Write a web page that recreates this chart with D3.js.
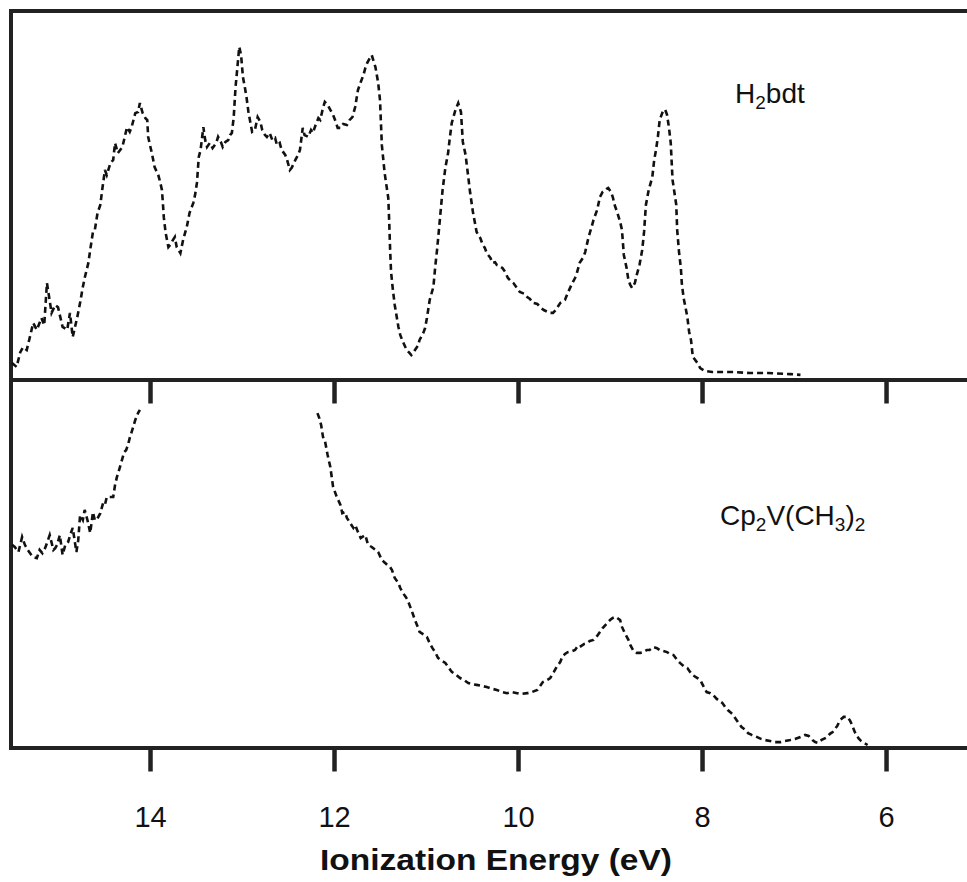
<!DOCTYPE html>
<html>
<head>
<meta charset="utf-8">
<script src="https://cdn.jsdelivr.net/npm/d3@7"></script>
<style>
body { margin: 0; background: #fff; }
text { font-family: "Liberation Sans", Arial, sans-serif; fill: #111; }
</style>
</head>
<body>
<div id="graph"></div>
<script>
// photoelectron spectra, [ionization energy (eV), intensity (arb. 0-100)]
var h2bdt_spectrum = [
  [15.50,3.9],[15.45,2.8],[15.41,6.9],[15.38,8.3],[15.34,7.5],[15.30,11.7],[15.27,15.0],[15.23,13.1],[15.18,16.4],[15.15,14.4],
  [15.12,26.1],[15.10,22.8],[15.07,17.8],[15.03,20.0],[15.00,19.4],[14.95,13.9],[14.90,13.1],[14.87,17.8],[14.84,11.1],[14.79,16.7],
  [14.76,20.6],[14.73,25.0],[14.71,27.5],[14.67,31.7],[14.65,35.3],[14.62,40.3],[14.60,40.8],[14.57,45.6],[14.54,47.8],[14.52,51.9],
  [14.49,57.5],[14.47,56.1],[14.43,59.4],[14.40,60.3],[14.38,65.0],[14.35,62.2],[14.30,63.9],[14.27,67.2],[14.25,69.4],[14.22,68.1],
  [14.20,69.4],[14.16,73.3],[14.13,73.6],[14.11,76.1],[14.08,73.3],[14.05,71.9],[14.03,71.4],[14.02,66.7],[14.00,64.4],[13.98,62.2],
  [13.95,58.3],[13.91,56.1],[13.89,54.2],[13.87,51.9],[13.86,48.3],[13.85,44.4],[13.83,40.0],[13.80,36.1],[13.78,36.7],[13.75,38.1],
  [13.73,38.9],[13.71,36.1],[13.67,34.4],[13.64,38.1],[13.60,41.7],[13.57,45.6],[13.53,48.3],[13.51,50.6],[13.49,53.9],[13.47,61.1],
  [13.45,63.1],[13.42,69.4],[13.40,65.8],[13.38,63.9],[13.35,65.0],[13.32,63.6],[13.28,65.0],[13.26,66.7],[13.23,65.3],[13.21,63.9],
  [13.18,65.3],[13.15,65.8],[13.13,67.2],[13.11,67.8],[13.09,72.2],[13.07,80.6],[13.05,86.1],[13.03,91.7],[13.01,89.4],[12.99,83.3],
  [12.97,80.6],[12.95,77.5],[12.93,73.6],[12.91,70.8],[12.89,68.1],[12.86,68.6],[12.83,72.2],[12.80,70.8],[12.78,68.6],[12.75,67.2],
  [12.73,66.7],[12.70,67.8],[12.67,65.8],[12.64,66.4],[12.62,64.4],[12.59,65.0],[12.57,63.1],[12.53,61.7],[12.51,60.3],[12.48,57.5],
  [12.46,58.1],[12.42,60.3],[12.39,61.7],[12.37,63.1],[12.34,69.2],[12.32,67.2],[12.28,66.7],[12.25,68.6],[12.23,67.8],[12.20,70.0],
  [12.17,71.9],[12.15,71.4],[12.12,74.7],[12.10,76.4],[12.07,75.6],[12.04,74.2],[12.01,72.8],[11.98,70.8],[11.96,69.2],[11.93,69.2],
  [11.90,70.3],[11.86,70.0],[11.83,71.4],[11.80,72.2],[11.77,75.0],[11.74,79.7],[11.71,81.9],[11.68,83.9],[11.66,85.8],[11.64,87.2],
  [11.61,88.6],[11.59,89.4],[11.55,86.1],[11.52,81.7],[11.50,76.9],[11.48,64.4],[11.45,56.7],[11.41,49.7],[11.40,43.1],[11.39,35.3],
  [11.38,29.2],[11.36,24.2],[11.34,20.0],[11.30,13.9],[11.28,11.7],[11.26,10.3],[11.23,8.6],[11.21,7.5],[11.18,6.7],[11.16,6.1],
  [11.14,6.7],[11.12,7.5],[11.09,8.6],[11.07,10.3],[11.03,12.2],[11.01,13.6],[10.99,16.4],[10.96,21.4],[10.92,25.0],[10.90,30.6],
  [10.88,35.3],[10.86,40.8],[10.84,46.4],[10.82,51.9],[10.79,58.1],[10.76,62.2],[10.74,66.7],[10.72,70.6],[10.68,74.2],[10.65,76.1],
  [10.62,73.6],[10.60,65.3],[10.57,61.7],[10.55,57.5],[10.52,51.1],[10.49,45.8],[10.45,40.3],[10.41,38.6],[10.39,37.2],[10.36,35.8],
  [10.34,34.4],[10.30,33.1],[10.28,31.7],[10.25,31.9],[10.23,31.1],[10.20,30.8],[10.17,30.3],[10.14,29.2],[10.11,27.5],[10.08,26.7],
  [10.05,26.1],[10.01,24.7],[9.98,23.6],[9.93,23.1],[9.90,22.2],[9.87,21.7],[9.84,20.6],[9.79,20.3],[9.76,19.4],[9.72,18.6],
  [9.68,18.1],[9.65,17.8],[9.62,17.8],[9.59,18.6],[9.54,20.6],[9.49,21.4],[9.46,23.3],[9.41,26.1],[9.38,27.5],[9.36,28.9],
  [9.33,31.7],[9.29,33.3],[9.27,34.7],[9.24,38.1],[9.22,40.0],[9.20,41.7],[9.18,43.6],[9.16,45.0],[9.14,46.4],[9.11,50.0],
  [9.08,51.4],[9.04,52.2],[9.02,52.5],[8.99,51.4],[8.97,50.0],[8.95,47.8],[8.92,45.6],[8.89,43.1],[8.87,40.8],[8.85,33.9],
  [8.82,30.3],[8.80,26.9],[8.78,25.6],[8.76,24.7],[8.73,26.1],[8.71,28.3],[8.68,31.1],[8.65,35.3],[8.63,40.3],[8.61,47.8],
  [8.58,51.9],[8.54,55.6],[8.52,60.3],[8.50,63.1],[8.48,66.7],[8.46,71.4],[8.42,74.2],[8.40,74.2],[8.38,72.8],[8.36,69.4],
  [8.34,65.0],[8.33,59.7],[8.32,54.7],[8.28,47.8],[8.27,40.8],[8.25,34.7],[8.23,30.3],[8.22,26.1],[8.20,21.9],[8.18,19.4],
  [8.16,16.7],[8.14,12.5],[8.12,10.3],[8.10,5.6],[8.05,3.9],[8.02,2.5],[7.97,1.7],[7.89,1.4],[7.80,1.4],[7.66,1.4],
  [7.48,1.1],[7.29,1.1],[7.04,0.8],[6.93,0.6]
];

// Cp2V(CH3)2 goes off scale between ~14.1 and ~12.2 eV, so two pieces
var cp2v_part1 = [
  [15.50,55.6],[15.47,55.0],[15.43,53.6],[15.39,57.8],[15.36,55.6],[15.33,54.2],[15.29,52.8],[15.27,52.2],[15.23,51.9],[15.20,54.2],
  [15.17,53.3],[15.14,54.7],[15.12,56.1],[15.09,58.3],[15.05,54.2],[15.03,54.7],[15.01,55.6],[14.98,58.3],[14.95,52.8],[14.92,55.6],
  [14.89,56.4],[14.86,58.9],[14.84,60.3],[14.80,53.6],[14.78,56.9],[14.76,63.9],[14.73,62.5],[14.71,65.3],[14.68,62.5],[14.65,58.9],
  [14.62,64.7],[14.60,62.5],[14.58,62.5],[14.54,64.4],[14.51,67.2],[14.49,66.7],[14.47,68.9],[14.43,68.9],[14.40,68.9],[14.38,72.2],
  [14.36,74.4],[14.32,77.8],[14.28,81.4],[14.26,81.9],[14.24,83.3],[14.22,85.3],[14.20,86.9],[14.16,90.3],[14.13,92.2],[14.11,93.1]
];
var cp2v_part2 = [
  [12.18,92.2],[12.16,90.8],[12.14,88.9],[12.12,85.6],[12.10,84.7],[12.07,80.6],[12.04,77.2],[12.01,71.7],[11.99,70.3],[11.97,68.9],
  [11.93,66.7],[11.91,64.4],[11.88,64.7],[11.86,63.1],[11.83,61.9],[11.79,60.3],[11.77,61.1],[11.74,59.2],[11.71,57.5],[11.66,58.3],
  [11.63,55.6],[11.59,55.0],[11.55,54.2],[11.52,53.6],[11.48,51.4],[11.42,50.0],[11.39,49.4],[11.37,48.6],[11.34,46.4],[11.30,45.0],
  [11.28,43.6],[11.25,42.2],[11.22,41.1],[11.20,40.3],[11.15,36.9],[11.12,34.7],[11.09,32.8],[11.07,31.4],[11.02,30.6],[10.99,30.0],
  [10.96,28.3],[10.93,26.9],[10.90,25.8],[10.87,24.2],[10.84,23.6],[10.79,22.8],[10.76,21.7],[10.72,20.3],[10.67,19.4],[10.63,18.6],
  [10.59,18.1],[10.54,17.2],[10.50,16.9],[10.45,16.7],[10.39,16.4],[10.34,16.1],[10.28,15.6],[10.23,15.3],[10.17,14.7],[10.12,14.4],
  [10.07,14.7],[10.01,14.4],[9.96,14.2],[9.90,14.4],[9.85,14.7],[9.79,15.3],[9.76,16.4],[9.73,17.5],[9.68,18.1],[9.65,18.6],
  [9.61,20.3],[9.58,21.7],[9.54,23.1],[9.52,24.4],[9.49,25.3],[9.46,25.8],[9.41,26.1],[9.38,26.4],[9.35,27.5],[9.33,27.2],
  [9.28,28.1],[9.25,28.3],[9.22,28.9],[9.18,29.2],[9.14,30.3],[9.11,31.4],[9.08,32.5],[9.03,33.9],[9.00,34.7],[8.97,35.3],
  [8.94,35.6],[8.89,34.7],[8.87,32.8],[8.84,31.1],[8.80,29.2],[8.78,27.8],[8.75,26.4],[8.71,25.6],[8.67,25.6],[8.64,25.8],
  [8.60,26.4],[8.57,26.4],[8.53,27.2],[8.49,26.9],[8.46,26.4],[8.42,26.1],[8.38,25.8],[8.35,25.3],[8.31,25.0],[8.27,23.6],
  [8.24,22.8],[8.20,21.9],[8.16,21.4],[8.13,20.3],[8.10,19.4],[8.05,18.6],[8.02,18.1],[7.98,16.1],[7.95,14.7],[7.91,14.4],
  [7.88,13.9],[7.84,12.8],[7.78,11.7],[7.75,10.6],[7.72,9.7],[7.67,8.6],[7.64,7.5],[7.61,6.4],[7.57,5.0],[7.53,4.2],
  [7.50,3.3],[7.46,2.8],[7.40,2.2],[7.36,1.7],[7.32,1.4],[7.26,1.1],[7.21,0.8],[7.15,0.8],[7.10,1.1],[7.04,1.4],
  [6.99,1.7],[6.93,2.2],[6.88,2.8],[6.84,2.5],[6.80,1.4],[6.77,0.8],[6.74,0.6],[6.70,1.4],[6.64,2.2],[6.61,3.1],
  [6.58,3.6],[6.53,5.3],[6.50,6.9],[6.46,7.8],[6.42,7.8],[6.39,6.7],[6.37,5.6],[6.34,3.6],[6.30,1.9],[6.27,1.1],
  [6.24,0.6],[6.20,0.0]
];

var energy_domain = [15.5, 5.12];
var tick_values = [14, 12, 10, 8, 6];
var intensity_domain = [0, 100];
var axis_title = "Ionization Energy (eV)";
// label pieces, second item = subscript
var top_label = [["H",0],["2",1],["bdt",0]];
var bottom_label = [["Cp",0],["2",1],["V(CH",0],["3",1],[")",0],["2",1]];

var Width = 967, Height = 882;
var frame_color = "#222";

var svg = d3.select("#graph").append("svg")
            .attr("width", Width)
            .attr("height", Height)
            .style("display", "block");

var x = d3.scaleLinear().domain(energy_domain).range([12, 967]);
var y_top = d3.scaleLinear().domain(intensity_domain).range([377, 17]);
var y_bottom = d3.scaleLinear().domain(intensity_domain).range([745, 385]);

// frame: top edge + left edge (no right edge, runs off the picture)
svg.append("line")
   .attr("x1", 9).attr("x2", Width)
   .attr("y1", 11).attr("y2", 11)
   .attr("stroke", frame_color).attr("stroke-width", 4);
svg.append("line")
   .attr("x1", 11).attr("x2", 11)
   .attr("y1", 9).attr("y2", 750)
   .attr("stroke", frame_color).attr("stroke-width", 4);

function drawAxis(yPos, withLabels){
  var ax = d3.axisBottom(x)
             .tickValues(tick_values)
             .tickSize(24)
             .tickSizeOuter(0)
             .tickPadding(35)
             .tickFormat(withLabels ? d3.format("d") : "");
  var g = svg.append("g")
             .attr("transform", `translate(0, ${yPos})`)
             .call(ax);
  g.select(".domain").attr("stroke", frame_color).attr("stroke-width", 4);
  g.selectAll(".tick line").attr("stroke", frame_color).attr("stroke-width", 4.5);
  g.selectAll(".tick text")
   .style("font-family", "'Liberation Sans', Arial, sans-serif")
   .style("font-size", "29px")
   .attr("fill", "#111");
  return g;
}

drawAxis(379.5, false);
drawAxis(747.5, true);

// spectra drawn as a broken (dashed) trace like the scanned original
function drawTrace(data, yScale){
  var line = d3.line()
               .x(d => x(d[0]))
               .y(d => yScale(d[1]));
  svg.append("path")
     .datum(data)
     .attr("d", line)
     .attr("fill", "none")
     .attr("stroke", "#111")
     .attr("stroke-width", 2.6)
     .attr("stroke-dasharray", "6,4");
}

drawTrace(h2bdt_spectrum, y_top);
drawTrace(cp2v_part1, y_bottom);
drawTrace(cp2v_part2, y_bottom);

function drawLabel(parts, px, py, size){
  var t = svg.append("text")
             .attr("x", px).attr("y", py)
             .style("font-size", size + "px");
  var shifted = false;
  parts.forEach(function(p){
    var ts = t.append("tspan").text(p[0]);
    if(p[1] && !shifted){ ts.attr("dy", 6).style("font-size", Math.round(size*0.68) + "px"); shifted = true; }
    else if(!p[1] && shifted){ ts.attr("dy", -6); shifted = false; }
    else if(p[1]){ ts.style("font-size", Math.round(size*0.68) + "px"); }
  });
}

drawLabel(top_label, 735, 103, 28);
drawLabel(bottom_label, 720, 525, 28);

svg.append("text")
   .attr("x", 496).attr("y", 870)
   .attr("text-anchor", "middle")
   .attr("textLength", 352)
   .attr("lengthAdjust", "spacingAndGlyphs")
   .style("font-size", "30px")
   .style("font-weight", "bold")
   .text(axis_title);
</script>
</body>
</html>
